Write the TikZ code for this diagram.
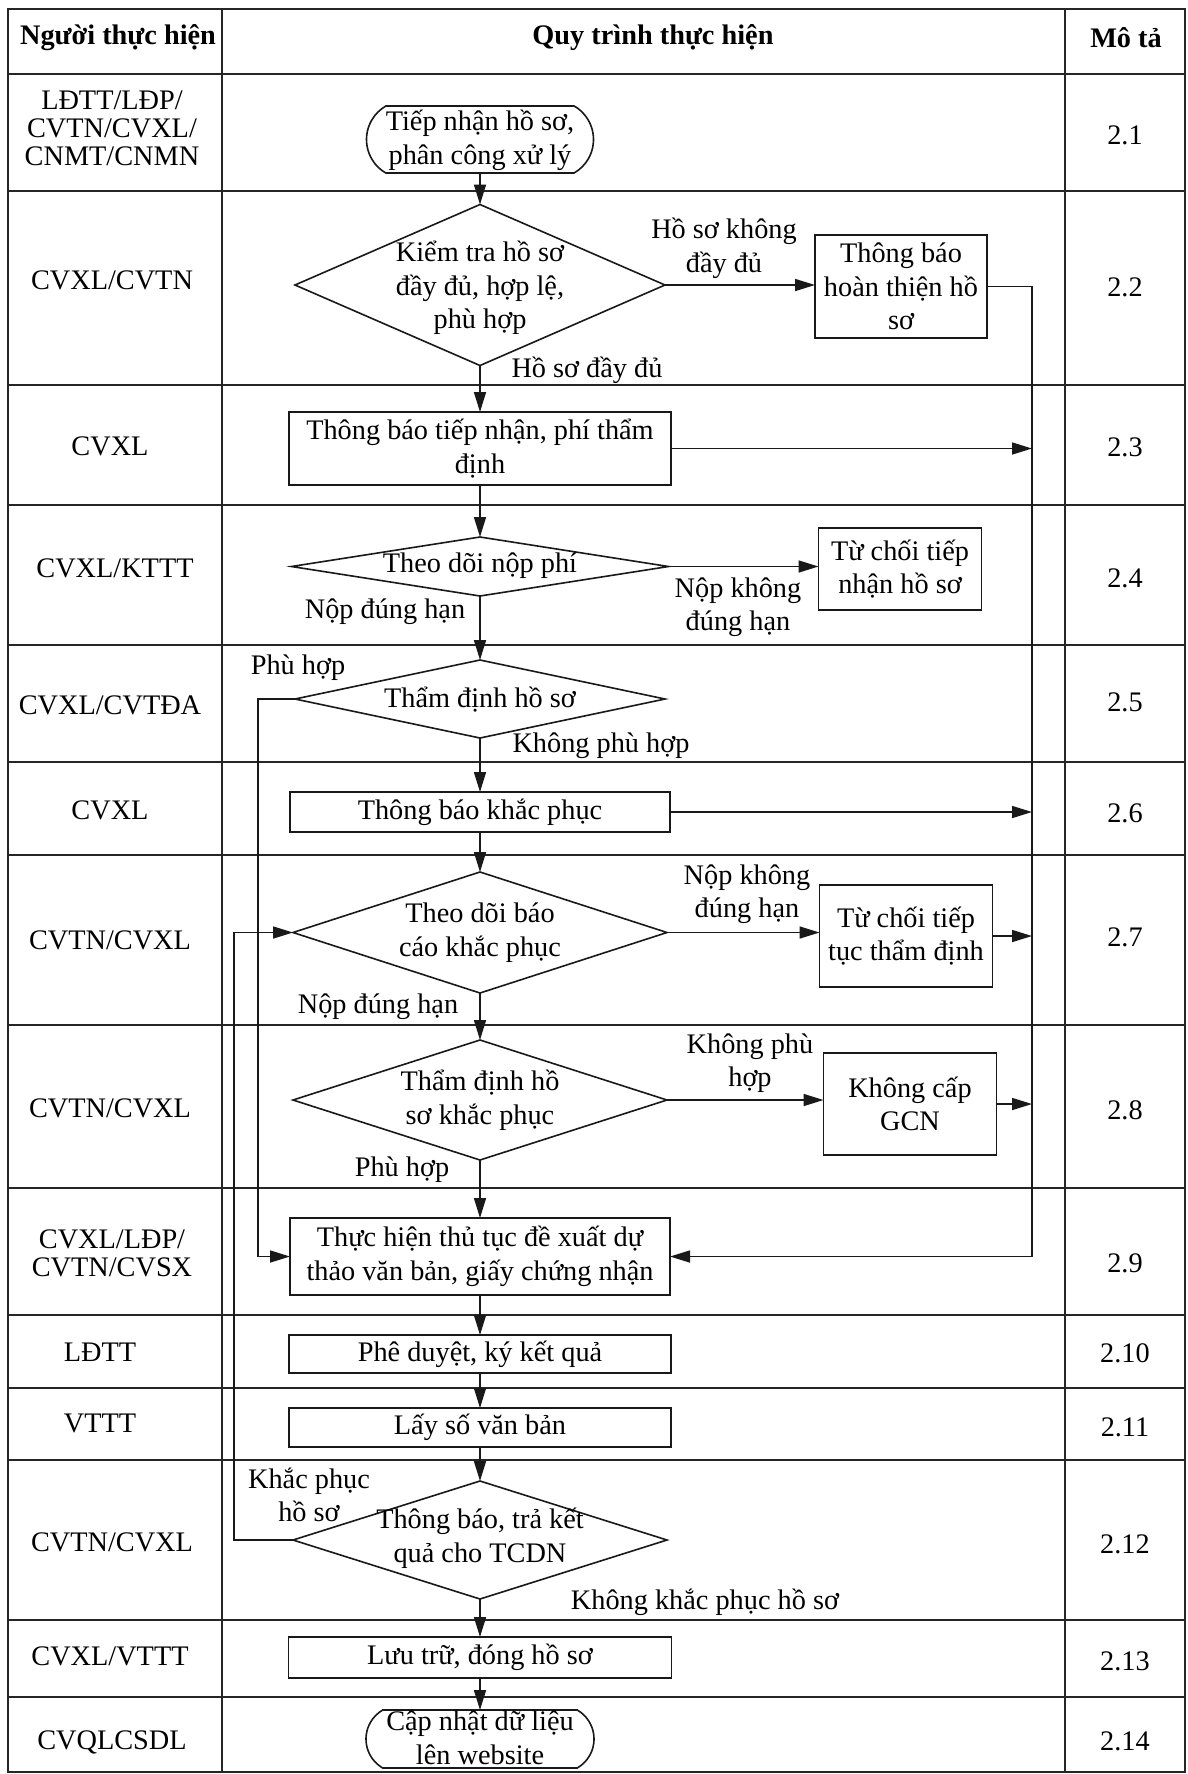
\documentclass[tikz,border=0pt]{standalone}
\usepackage{fontspec}
\setmainfont{Liberation Serif}
\usetikzlibrary{arrows.meta,shapes.geometric,shapes.misc}
\begin{document}
\begin{tikzpicture}[x=0.5pt,y=-0.5pt,
  every node/.style={font=\fontsize{14.15pt}{16.8pt}\selectfont, inner sep=0pt, outer sep=0pt},
  tbl/.style={line width=1.1pt, draw=black!85},
  shp/.style={draw=black!90, line width=0.8pt},
  box/.style={shp, rectangle, align=center},
  dia/.style={shp, diamond},
  term/.style={shp, rounded rectangle, rounded rectangle arc length=120},
  txt/.style={align=center},
  who/.style={align=center, font=\fontsize{14.15pt}{14pt}\selectfont},
  hdr/.style={font=\fontsize{14.15pt}{16.8pt}\selectfont\bfseries},
  arr/.style={draw=black!90, -{Triangle[length=10pt,width=6pt]}, line width=0.8pt}
]
\useasboundingbox (0,0) rectangle (1188,1774);
\fill[white] (0,0) rectangle (1188,1774);

% ---------- table ----------
\draw[tbl] (8,9) rectangle (1185,1772);
\draw[tbl] (222,9) -- (222,1772);
\draw[tbl] (1065,9) -- (1065,1772);
\foreach \yy in {74,191,385,505,645,762,855,1025,1188,1315,1388,1460,1620,1697}
  \draw[tbl] (8,\yy) -- (1185,\yy);

% header
\node[hdr] (h1) at (118,38) {Người thực hiện};
\node[hdr] (h2) at (653,38) {Quy trình thực hiện};
\node[hdr] (h3) at (1126,38) {Mô tả};

% who column
\node[who] (w1) at (112,128) {LĐTT/LĐP/\\CVTN/CVXL/\\CNMT/CNMN};
\node[who] (w2) at (112,280) {CVXL/CVTN};
\node[who] (w3) at (110,446) {CVXL};
\node[who] (w4) at (115,568) {CVXL/KTTT};
\node[who] (w5) at (110,705) {CVXL/CVTĐA};
\node[who] (w6) at (110,810) {CVXL};
\node[who] (w7) at (110,940) {CVTN/CVXL};
\node[who] (w8) at (110,1108) {CVTN/CVXL};
\node[who] (w9) at (112,1253) {CVXL/LĐP/\\CVTN/CVSX};
\node[who] (w10) at (100,1352) {LĐTT};
\node[who] (w11) at (100,1423) {VTTT};
\node[who] (w12) at (112,1542) {CVTN/CVXL};
\node[who] (w13) at (110,1656) {CVXL/VTTT};
\node[who] (w14) at (112,1742) {CVQLCSDL};

% numbers
\node (n1) at (1125,135) {2.1};
\node (n2) at (1125,287) {2.2};
\node (n3) at (1125,447) {2.3};
\node (n4) at (1125,578) {2.4};
\node (n5) at (1125,702) {2.5};
\node (n6) at (1125,813) {2.6};
\node (n7) at (1125,937) {2.7};
\node (n8) at (1125,1110) {2.8};
\node (n9) at (1125,1263) {2.9};
\node (n10) at (1125,1353) {2.10};
\node (n11) at (1125,1427) {2.11};
\node (n12) at (1125,1544) {2.12};
\node (n13) at (1125,1661) {2.13};
\node (n14) at (1125,1741) {2.14};

% ---------- flow shapes ----------
\node[term, minimum width=113.5pt, minimum height=33.5pt] (start) at (480,139.5) {};
\node[txt] (startT) at (480,140) {Tiếp nhận hồ sơ,\\phân công xử lý};

\node[dia, minimum width=185pt, minimum height=80.5pt] (d22) at (480,285) {};
\node[txt] (d22T) at (480,288) {Kiểm tra hồ sơ\\đầy đủ, hợp lệ,\\phù hợp};

\node[box, minimum width=86pt, minimum height=51.5pt] (b22) at (901,286.5) {Thông báo\\hoàn thiện hồ\\sơ};

\node[box, minimum width=191pt, minimum height=36.5pt] (b23) at (480,448.5) {Thông báo tiếp nhận, phí thẩm\\định};

\node[dia, minimum width=188.5pt, minimum height=29.5pt] (d24) at (480,566.5) {};
\node[txt] (d24T) at (480,566) {Theo dõi nộp phí};

\node[box, minimum width=81.5pt, minimum height=41pt] (b24) at (900,569) {Từ chối tiếp\\nhận hồ sơ};

\node[dia, minimum width=185pt, minimum height=39pt] (d25) at (480,699) {};
\node[txt] (d25T) at (480,700) {Thẩm định hồ sơ};

\node[box, minimum width=190pt, minimum height=20pt] (b26) at (480,812) {Thông báo khắc phục};

\node[dia, minimum width=187pt, minimum height=60.5pt] (d27) at (480,932.5) {};
\node[txt] (d27T) at (480,932.5) {Theo dõi báo\\cáo khắc phục};

\node[box, minimum width=86.5pt, minimum height=51pt] (b27) at (906,936) {Từ chối tiếp\\tục thẩm định};

\node[dia, minimum width=187pt, minimum height=60pt] (d28) at (480,1100) {};
\node[txt] (d28T) at (480,1100) {Thẩm định hồ\\sơ khắc phục};

\node[box, minimum width=86.5pt, minimum height=51pt] (b28) at (910,1104) {Không cấp\\GCN};

\node[box, minimum width=190pt, minimum height=38.5pt] (b29) at (480,1256.5) {Thực hiện thủ tục đề xuất dự\\thảo văn bản, giấy chứng nhận};

\node[box, minimum width=191pt, minimum height=19pt] (b210) at (480,1354) {Phê duyệt, ký kết quả};
\node[box, minimum width=191pt, minimum height=19.5pt] (b211) at (480,1427.5) {Lấy số văn bản};

\node[dia, minimum width=187pt, minimum height=59pt] (d212) at (480,1540) {};
\node[txt] (d212T) at (480,1538.5) {Thông báo, trả kết\\quả cho TCDN};

\node[box, minimum width=191.5pt, minimum height=20.5pt] (b213) at (480,1657.5) {Lưu trữ, đóng hồ sơ};

\node[term, minimum width=114pt, minimum height=29pt] (end) at (480,1739) {};
\node[txt] (endT) at (480,1738) {Cập nhật dữ liệu\\lên website};

% ---------- connector labels ----------
\node[txt] (l1) at (724,248) {Hồ sơ không\\đầy đủ};
\node[txt] (l2) at (587,370) {Hồ sơ đầy đủ};
\node[txt] (l3) at (738,607) {Nộp không\\đúng hạn};
\node[txt] (l4) at (385,612) {Nộp đúng hạn};
\node[txt] (l5) at (298,668) {Phù hợp};
\node[txt] (l6) at (601,746) {Không phù hợp};
\node[txt] (l7) at (747,894) {Nộp không\\đúng hạn};
\node[txt] (l8) at (378,1007) {Nộp đúng hạn};
\node[txt] (l9) at (750,1063) {Không phù\\hợp};
\node[txt] (l10) at (402,1170) {Phù hợp};
\node[txt] (l11) at (309,1495) {Khắc phục\\hồ sơ};
\node[txt] (l12) at (705,1602) {Không khắc phục hồ sơ};

% ---------- bus coordinates ----------
\coordinate (busR) at (1032,0);
\coordinate (busL1) at (258,0);
\coordinate (busL2) at (234,0);

% ---------- connectors ----------
\draw[arr] (start.south) -- (d22.north);
\draw[arr] (d22.east) -- (d22.east -| b22.west);
\draw[arr] (b22.east) -- (b22.east -| busR) -- (busR |- b29.east) -- (b29.east);
\draw[arr] (d22.south) -- (b23.north);
\draw[arr] (b23.east) -- (b23.east -| busR);
\draw[arr] (b23.south) -- (d24.north);
\draw[arr] (d24.east) -- (d24.east -| b24.west);
\draw[arr] (d24.south) -- (d25.north);
\draw[arr] (d25.west) -- (d25.west -| busL1) -- (busL1 |- b29.west) -- (b29.west);
\draw[arr] (d25.south) -- (b26.north);
\draw[arr] (b26.east) -- (b26.east -| busR);
\draw[arr] (b26.south) -- (d27.north);
\draw[arr] (d27.east) -- (d27.east -| b27.west);
\draw[arr] (b27.east) -- (b27.east -| busR);
\draw[arr] (d27.south) -- (d28.north);
\draw[arr] (d28.east) -- (d28.east -| b28.west);
\draw[arr] (b28.east) -- (b28.east -| busR);
\draw[arr] (d28.south) -- (b29.north);
\draw[arr] (b29.south) -- (b210.north);
\draw[arr] (b210.south) -- (b211.north);
\draw[arr] (b211.south) -- (d212.north);
\draw[arr] (d212.west) -- (d212.west -| busL2) -- (busL2 |- d27.west) -- (d27.west);
\draw[arr] (d212.south) -- (b213.north);
\draw[arr] (b213.south) -- (end.north);
\end{tikzpicture}
\end{document}
